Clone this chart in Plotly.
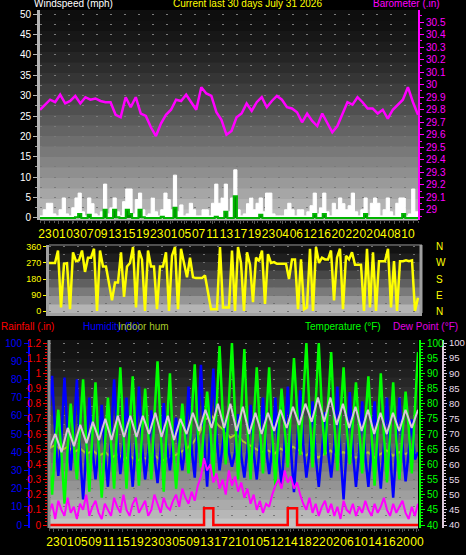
import numpy as np
import plotly.graph_objects as go

W, H = 466, 555

# ---- values ----
hour_labels_top = ["23", "01", "03", "07", "09", "13", "15", "19", "23", "01", "05", "07", "11", "13",
                   "17", "19", "23", "04", "06", "12", "16", "20", "22", "02", "04", "08", "10"]
hour_labels_bottom = ["23", "01", "05", "09", "11", "15", "19", "23", "03", "05", "09", "13", "17", "21",
                      "01", "05", "12", "14", "18", "22", "02", "06", "10", "14", "16", "20", "00"]

# barometer (.in)
barometer = [29.80, 29.84, 29.88, 29.86, 29.92, 29.85, 29.87, 29.91, 29.85, 29.90, 29.88, 29.89, 29.87,
             29.86, 29.86, 29.76, 29.74, 29.90, 29.82, 29.90, 29.77, 29.75, 29.66, 29.59, 29.69, 29.76,
             29.80, 29.88, 29.87, 29.92, 29.86, 29.80, 29.98, 29.93, 29.91, 29.78, 29.72, 29.60, 29.63,
             29.74, 29.77, 29.85, 29.79, 29.86, 29.90, 29.82, 29.87, 29.91, 29.88, 29.82, 29.81, 29.78,
             29.70, 29.77, 29.71, 29.67, 29.77, 29.70, 29.62, 29.67, 29.77, 29.86, 29.84, 29.90, 29.86,
             29.81, 29.81, 29.77, 29.80, 29.73, 29.80, 29.84, 29.88, 29.98, 29.86, 29.76]

# windspeed (mph)
wind_gust = [0.5, 2.0, 3.6, 3.6, 1.0, 0.5, 2.0, 4.9, 1.0, 0.5, 2.5, 4.9, 6.1, 1.5, 0.5, 4.9, 3.5, 1.0,
             0.5, 1.5, 8.3, 1.0, 2.5, 4.9, 1.5, 0.5, 4.0, 7.1, 7.1, 1.0, 4.5, 6.1, 2.0, 0.5, 1.0, 4.9,
             1.5, 0.5, 2.0, 6.1, 4.5, 2.0, 10.5, 1.5, 3.2, 0.5, 1.0, 3.6, 2.0, 0.5, 0.5, 2.0, 2.0, 0.5,
             3.6, 8.3, 3.6, 4.9, 8.3, 1.5, 4.9, 11.8, 2.0, 0.5, 1.0, 3.5, 4.9, 2.0, 3.6, 4.9, 1.5, 6.1,
             6.1, 1.0, 0.5, 0.5, 0.5, 2.0, 3.6, 2.0, 0.5, 2.0, 2.0, 0.5, 1.5, 3.0, 6.1, 1.0, 2.5, 6.1,
             1.5, 0.5, 3.6, 2.0, 4.9, 3.5, 2.0, 3.0, 6.1, 1.5, 0.5, 2.0, 4.9, 0.5, 3.6, 4.9, 3.6, 0.5,
             2.0, 4.9, 1.5, 0.5, 3.6, 4.9, 4.9, 0.5, 1.0, 7.1, 1.5, 0.5]
wind_avg = [0, 0, 0, 0, 0, 0, 0, 0, 0, 0, 0, 0.2, 1.0, 0, 0, 0.8, 0, 0, 0, 0, 2.0, 0, 0, 2.0, 0.2,
            0, 0, 2.0, 1.0, 0, 0, 2.0, 0.2, 0, 0, 0, 0, 0, 0.3, 0, 0, 0, 2.5, 0, 0, 0, 0, 0, 0, 0,
            0, 0, 0, 0, 0, 0.3, 0, 0, 1.5, 0, 0, 5.3, 0, 0, 0, 0, 0, 0, 0, 0.8, 0, 0, 0, 0, 0, 0,
            0, 0, 0, 0, 0, 0, 0, 0, 0, 0, 1.0, 0, 0, 1.0, 0, 0, 0, 0, 0, 0, 0, 0, 0, 0, 0, 0, 1.0,
            0, 0, 0, 0, 0, 0, 0, 0, 0, 0, 0, 1.0, 0, 0, 0, 0, 0]

# wind direction (degrees)
wind_dir = [270, 268, 270, 340, 20, 265, 268, 10, 330, 280, 285, 340, 220, 300, 300, 350, 0, 340,
            250, 250, 150, 60, 160, 160, 330, 80, 250, 270, 360, 20, 340, 290, 0, 340, 250, 250, 10,
            250, 250, 330, 0, 310, 360, 10, 350, 270, 190, 300, 190, 185, 185, 185, 200, 100, 10, 10,
            10, 360, 20, 20, 20, 340, 0, 360, 270, 0, 330, 260, 50, 300, 280, 340, 40, 320, 270, 275,
            265, 265, 265, 265, 180, 290, 290, 10, 290, 10, 20, 350, 0, 360, 270, 300, 290, 290, 340,
            60, 300, 350, 10, 310, 290, 330, 260, 260, 260, 0, 350, 20, 330, 0, 280, 280, 280, 350,
            20, 280, 0, 280, 280, 285, 280, 285, 0, 75]

# outdoor temperature (°F), four readings a day
temperature = [62, 50, 66, 78, 64, 47, 65, 80, 66, 55, 72, 88, 68, 51, 70, 87, 66, 49, 66, 82,
               67, 52, 73, 92, 70, 52, 72, 89, 68, 53, 70, 85, 70, 55, 76, 94, 72, 51, 72, 90,
               66, 52, 66, 80, 68, 57, 76, 93, 70, 59, 72, 84, 72, 56, 78, 99, 77, 60, 80, 100,
               76, 55, 78, 98, 72, 55, 74, 92, 72, 57, 74, 92, 70, 53, 70, 85, 72, 59, 78, 95,
               78, 63, 82, 100, 78, 59, 80, 100, 78, 63, 80, 97, 74, 58, 76, 92, 72, 60, 74, 87,
               72, 57, 74, 89, 71, 53, 72, 90, 70, 54, 70, 87, 68, 55, 70, 84, 72, 57, 78, 97]

# outdoor humidity (%)
humidity = [62, 82, 50, 27, 48, 81, 50, 30, 52, 80, 40, 14, 40, 70, 42, 25, 42, 66, 40, 21,
            48, 80, 48, 28, 44, 70, 42, 21, 46, 76, 44, 25, 40, 63, 38, 23, 42, 67, 44, 30,
            46, 59, 42, 30, 44, 76, 42, 26, 56, 88, 48, 21, 54, 86, 50, 30, 44, 58, 40, 32,
            40, 61, 38, 26, 42, 66, 40, 25, 44, 70, 42, 28, 42, 70, 40, 21, 46, 76, 42, 18,
            44, 74, 44, 26, 40, 68, 38, 21, 40, 62, 40, 26, 44, 76, 40, 14, 42, 73, 40, 21,
            40, 68, 38, 21, 42, 68, 40, 20, 44, 70, 40, 15, 42, 70, 44, 24, 40, 58, 36, 40]

# dew point (°F)
dew_point = [44, 47, 42, 48, 45, 43, 49, 44, 46, 42, 47, 45, 50, 43, 46, 48, 44, 42, 47, 45,
             43, 49, 46, 44, 50, 45, 43, 47, 49, 44, 46, 48, 43, 45, 50, 47, 44, 49, 46, 45,
             48, 50, 46, 52, 49, 47, 51, 48, 53, 56, 62, 58, 60, 54, 57, 52, 55, 50, 58, 53,
             56, 51, 54, 49, 52, 47, 50, 45, 48, 44, 47, 46, 50, 53, 55, 52, 58, 54, 56, 52,
             54, 50, 47, 45, 49, 44, 47, 43, 46, 48, 44, 47, 43, 46, 42, 48, 45, 44, 47, 43,
             46, 44, 48, 45, 43, 47, 44, 46, 49, 45, 43, 47, 44, 46, 48, 44, 42, 46, 43, 47]

# indoor temperature (°F), two readings a day
indoor_temp = [65, 70, 64, 72, 66, 73, 67, 74, 68, 75, 68, 76, 69, 76, 69, 76, 70, 77, 69, 76,
               68, 75, 70, 77, 71, 78, 72, 80, 72, 80, 71, 79, 70, 77, 70, 77, 71, 78, 72, 79,
               73, 80, 74, 82, 74, 82, 73, 80, 72, 79, 71, 78, 70, 77, 70, 77, 71, 78, 72, 78]

# indoor humidity (%)
indoor_hum = [42, 44, 41, 43, 40, 42, 39, 41, 38, 40, 37, 39, 36, 38, 35, 37, 36, 38, 35, 37,
              38, 40, 42, 45, 50, 58, 60, 55, 52, 48, 50, 46, 44, 42, 40, 41, 39, 42, 40, 43,
              41, 38, 40, 37, 39, 41, 38, 40, 39, 37, 38, 40, 37, 39, 41, 38, 40, 39, 41, 38]

# rainfall (.in)
rainfall = [0] * 50 + [0.11, 0.11, 0.11] + [0] * 24 + [0.11, 0.11, 0.11] + [0] * 40


def px_x(x):
    return x / W


def px_y(y):
    return 1 - y / H


def hours(values):
    return np.linspace(0, 720, len(values))


def gradient(top, bottom, left, right, g_top, g_bot, n=20, gamma=1.3):
    # stepped grey background like the original image
    shapes = []
    step = (bottom - top) / n
    for k in range(n):
        g = int(g_top + (g_bot - g_top) * (k / (n - 1)) ** gamma)
        shapes.append(dict(type='rect', xref='paper', yref='paper', layer='below',
                           x0=px_x(left), x1=px_x(right),
                           y0=px_y(top + (k + 1) * step + 0.5), y1=px_y(top + k * step),
                           fillcolor='rgb(%d,%d,%d)' % (g, g, g), line_width=0))
    return shapes


FONT = 'Liberation Sans'
DOTS = '2px,12px'

fig = go.Figure()

# panel 1: wind + barometer
fig.add_trace(go.Scatter(x=hours(wind_gust), y=wind_gust, xaxis='x', yaxis='y', mode='lines',
                         line_shape='hv', fill='tozeroy', fillcolor='white',
                         line=dict(color='white', width=1)))
fig.add_trace(go.Scatter(x=hours(wind_avg), y=wind_avg, xaxis='x', yaxis='y', mode='lines',
                         line_shape='hv', fill='tozeroy', fillcolor='#008a00',
                         line=dict(color='#00b400', width=2)))
fig.add_trace(go.Scatter(x=hours(barometer), y=barometer, xaxis='x', yaxis='y2', mode='lines',
                         line=dict(color='#ff00ff', width=2.5)))

# panel 2: wind direction
fig.add_trace(go.Scatter(x=hours(wind_dir), y=wind_dir, xaxis='x2', yaxis='y3', mode='lines',
                         line=dict(color='#ffff00', width=2.5)))
fig.add_trace(go.Scatter(x=[0], y=[0], xaxis='x2', yaxis='y4', mode='markers',
                         marker=dict(opacity=0), hoverinfo='skip'))

# panel 3: humidity, temperatures, rain
fig.add_trace(go.Scatter(x=hours(indoor_hum), y=indoor_hum, xaxis='x3', yaxis='y5', mode='lines',
                         line=dict(color='#a8c828', width=2)))
fig.add_trace(go.Scatter(x=hours(indoor_temp), y=indoor_temp, xaxis='x3', yaxis='y8', mode='lines',
                         line=dict(color='#d8c6d8', width=2)))
fig.add_trace(go.Scatter(x=hours(humidity), y=humidity, xaxis='x3', yaxis='y5', mode='lines',
                         line=dict(color='#0000ff', width=2.5)))
fig.add_trace(go.Scatter(x=hours(temperature), y=temperature, xaxis='x3', yaxis='y7', mode='lines',
                         line=dict(color='#00ff00', width=2.5)))
fig.add_trace(go.Scatter(x=hours(dew_point), y=dew_point, xaxis='x3', yaxis='y7', mode='lines',
                         line=dict(color='#ff00ff', width=2)))
fig.add_trace(go.Scatter(x=hours(rainfall), y=rainfall, xaxis='x3', yaxis='y6', mode='lines',
                         line_shape='hv', line=dict(color='#ff0000', width=2.5)))

shapes = []
shapes += gradient(10, 220, 40, 418, 14, 190)
shapes += gradient(245, 313, 49, 422, 18, 180, n=8)
shapes += gradient(340, 528, 49, 418, 16, 196)
shapes.append(dict(type='line', xref='paper', yref='paper', x0=px_x(49), x1=px_x(49),
                   y0=px_y(340), y1=px_y(528), line=dict(color='#8c8c8c', width=3)))
shapes.append(dict(type='line', xref='paper', yref='paper', x0=px_x(49), x1=px_x(422),
                   y0=px_y(245), y1=px_y(245), line=dict(color='#505050', width=2)))
shapes.append(dict(type='line', xref='paper', yref='paper', x0=px_x(421), x1=px_x(421),
                   y0=px_y(245), y1=px_y(313), line=dict(color='#a0a0a0', width=3)))

tick_font = dict(family=FONT, size=10)
hour_font = dict(family=FONT, size=12, color='#ffff00')

fig.update_layout(
    width=W, height=H,
    margin=dict(l=0, r=0, t=0, b=0, autoexpand=False),
    paper_bgcolor='black',
    plot_bgcolor='rgba(0,0,0,0)',
    showlegend=False,
    font=dict(family=FONT, size=10, color='white'),
    shapes=shapes,
    xaxis=dict(domain=[px_x(40), px_x(418)], anchor='y', range=[0, 720], automargin=False,
               tickmode='array', tickvals=np.linspace(9.5, 701, 27), ticktext=hour_labels_top,
               tickfont=hour_font, tickangle=0,
               ticks='outside', ticklen=3, tickcolor='#555555', showgrid=False, zeroline=False,
               minor=dict(tickmode='linear', tick0=0, dtick=9, ticks='outside', ticklen=2,
                          tickcolor='#555555')),
    yaxis=dict(domain=[px_y(220), px_y(10)], anchor='x', range=[-0.5, 51], dtick=5, tick0=0,
               automargin=False,
               tickfont=dict(tick_font, color='white'), showline=True, linecolor='#b4b4b4',
               linewidth=3, ticks='outside', ticklen=4, tickcolor='#b4b4b4', zeroline=False,
               showgrid=True, gridcolor='#7a7a7a', griddash=DOTS,
               minor=dict(dtick=2.5, ticks='outside', ticklen=2, tickcolor='#9a9a9a',
                          showgrid=True, gridcolor='#7a7a7a', griddash=DOTS)),
    yaxis2=dict(overlaying='y', side='right', anchor='x', range=[28.92, 30.596], dtick=0.1,
                tick0=29, automargin=False,
                tickfont=dict(tick_font, color='#ff00ff'), showline=True,
                linecolor='#ff00ff', linewidth=2, ticks='outside', ticklen=4, tickcolor='#ff00ff',
                showgrid=False, zeroline=False,
                minor=dict(dtick=0.05, ticks='outside', ticklen=2, tickcolor='#ff00ff')),
    xaxis2=dict(domain=[px_x(49), px_x(422)], anchor='y3', range=[0, 727.8], automargin=False,
                showticklabels=False, showline=True, linecolor='#a0a0a0', linewidth=3,
                showgrid=False, zeroline=False),
    yaxis3=dict(domain=[px_y(313), px_y(245)], anchor='x2', range=[-11, 371], automargin=False,
                tickvals=[0, 90, 180, 270, 360], tickfont=dict(family=FONT, size=9, color='#ffff00'),
                showline=True, linecolor='#a0a0a0', linewidth=3,
                ticks='outside', ticklen=3, tickcolor='#ffff00', zeroline=False,
                showgrid=True, gridcolor='#707070', griddash=DOTS,
                minor=dict(dtick=45, showgrid=True, gridcolor='#707070', griddash=DOTS)),
    yaxis4=dict(overlaying='y3', side='right', anchor='x2', range=[-11, 371], automargin=False,
                tickvals=[0, 90, 180, 270, 360], ticktext=['N', 'E', 'S', 'W', 'N'],
                tickfont=dict(tick_font, color='#ffff00'), ticklabelstandoff=13,
                showgrid=False, zeroline=False, showline=False),
    xaxis3=dict(domain=[px_x(49), px_x(418)], anchor='y5', range=[0, 720], automargin=False,
                tickmode='array', tickvals=np.linspace(7.8, 718, 27), ticktext=hour_labels_bottom,
                tickfont=hour_font, tickangle=0,
                ticks='outside', ticklen=3, tickcolor='#555555', showgrid=False, zeroline=False,
                minor=dict(tickmode='linear', tick0=0, dtick=9, ticks='outside', ticklen=2,
                           tickcolor='#555555')),
    yaxis5=dict(domain=[px_y(528), px_y(340)], anchor='free', position=px_x(29), side='left',
                range=[-1.65, 101.65], dtick=10, automargin=False,
                tickfont=dict(tick_font, color='#0000ff'),
                showline=True, linecolor='#0000ff', linewidth=2, ticks='outside', ticklen=4,
                tickcolor='#0000ff', zeroline=False,
                showgrid=True, gridcolor='#777777', griddash=DOTS,
                minor=dict(dtick=5, ticks='outside', ticklen=2, tickcolor='#0000ff',
                           showgrid=True, gridcolor='#777777', griddash=DOTS)),
    yaxis6=dict(overlaying='y5', anchor='free', position=px_x(47), side='left',
                range=[-0.0198, 1.2198], dtick=0.1, automargin=False,
                tickfont=dict(tick_font, color='#ff0000'),
                showline=False, ticks='outside', ticklen=4, tickcolor='#ff0000',
                showgrid=False, zeroline=False,
                minor=dict(dtick=0.02, ticks='outside', ticklen=2, tickcolor='#ff0000')),
    yaxis7=dict(overlaying='y5', anchor='free', position=px_x(420), side='right',
                range=[39.01, 100.99], dtick=5, tick0=40, automargin=False,
                tickfont=dict(tick_font, color='#00ff00'),
                showline=True, linecolor='#00ff00', linewidth=2, ticks='outside', ticklen=4,
                tickcolor='#00ff00', showgrid=False, zeroline=False,
                minor=dict(dtick=1, ticks='outside', ticklen=2, tickcolor='#00ff00')),
    yaxis8=dict(overlaying='y5', anchor='free', position=px_x(443), side='right',
                range=[39.01, 100.99], dtick=5, tick0=40, automargin=False,
                tickfont=dict(family=FONT, size=9.5, color='#e8dce8'),
                showline=True, linecolor='#dccadc', linewidth=2, ticks='outside', ticklen=3,
                tickcolor='#dccadc', showgrid=False, zeroline=False,
                minor=dict(dtick=1, ticks='outside', ticklen=2, tickcolor='#dccadc')),
)

titles = [
    ("Windspeed (mph)", 33, 3.5, 'white'),
    ("Current last 30 days July 31 2026", 172, 3.5, '#ffff00'),
    ("Barometer (.in)", 372, 3.5, '#ff00ff'),
    ("Rainfall (.in)", 0, 326, '#ff0000'),
    ("Humidity (%)", 82, 326, '#0000ff'),
    ("Indoor hum", 117, 326, '#a8c828'),
    ("Temperature (°F)", 304, 326, '#00ff00'),
    ("Dew Point (°F)", 392, 326, '#e000e0'),
]
for text, x, y, color in titles:
    fig.add_annotation(text=text, xref='paper', yref='paper', x=px_x(x), y=px_y(y),
                       xanchor='left', yanchor='middle', showarrow=False, borderpad=0,
                       font=dict(family=FONT, size=10, color=color))

# the page's default body margin would shift the figure by 8px
fig.write_html("out.html", config={'displayModeBar': False},
               post_script="document.body.style.margin = '0';")
